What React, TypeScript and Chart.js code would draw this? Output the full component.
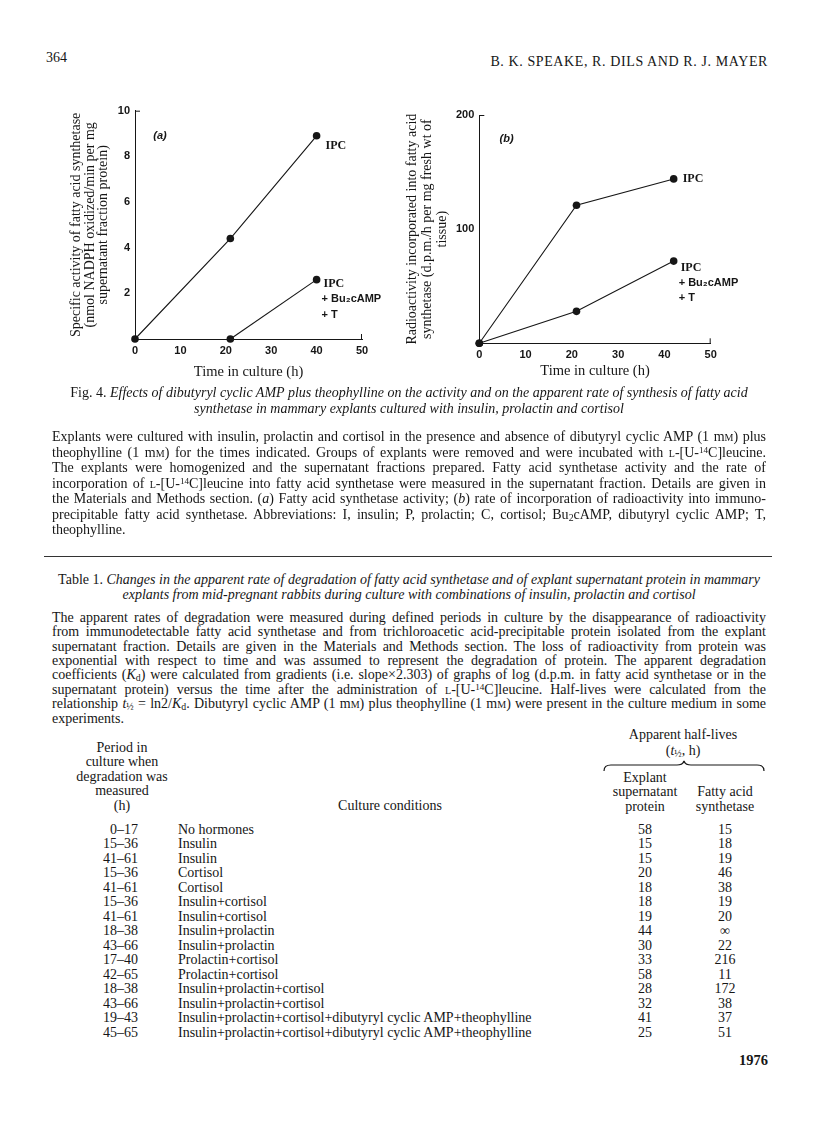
import React, { useEffect, useRef } from "react";
import { Chart, registerables } from "chart.js";

Chart.register(...registerables);

// ---------- Fig. 4 (a): fatty acid synthetase activity ----------
const timeA_IPC = [0, 21, 40];
const activityA_IPC = [0, 4.4, 8.9];
const timeA_IPCBu = [21, 40];
const activityA_IPCBu = [0, 2.6];
const xTicksA = { min: 0, max: 50, step: 10 };
const yTicksA = { min: 0, max: 10, step: 2 };

// ---------- Fig. 4 (b): radioactivity incorporated ----------
const timeB_IPC = [0, 21, 42];
const radioB_IPC = [0, 121, 144];
const timeB_IPCBu = [0, 21, 42];
const radioB_IPCBu = [0, 28, 72];
const xTicksB = { min: 0, max: 50, step: 10 };
const yTicksB = { min: 0, max: 200, step: 100 };

const labelIPC = ["IPC"];
const labelIPCBu = ["IPC", "+ Bu\u2082cAMP", "+ T"];
const xTitle = "Time in culture (h)";
const yTitleA = [
  "Specific activity of fatty acid synthetase",
  "(nmol NADPH oxidized/min per mg",
  "supernatant fraction protein)",
];
const yTitleB = [
  "Radioactivity incorporated into fatty acid",
  "synthetase (d.p.m./h per mg fresh wt of",
  "tissue)",
];

// ---------- Table 1 ----------
const periods = ["0\u201317", "15\u201336", "41\u201361", "15\u201336", "41\u201361", "15\u201336", "41\u201361", "18\u201338", "43\u201366", "17\u201340", "42\u201365", "18\u201338", "43\u201366", "19\u201343", "45\u201365"];
const conditions = [
  "No hormones", "Insulin", "Insulin", "Cortisol", "Cortisol", "Insulin+cortisol", "Insulin+cortisol",
  "Insulin+prolactin", "Insulin+prolactin", "Prolactin+cortisol", "Prolactin+cortisol",
  "Insulin+prolactin+cortisol", "Insulin+prolactin+cortisol",
  "Insulin+prolactin+cortisol+dibutyryl cyclic AMP+theophylline",
  "Insulin+prolactin+cortisol+dibutyryl cyclic AMP+theophylline",
];
const halfLifeSupernatant = ["58", "15", "15", "20", "18", "18", "19", "44", "30", "33", "58", "28", "32", "41", "25"];
const halfLifeFAS = ["15", "18", "19", "46", "38", "19", "20", "\u221e", "22", "216", "11", "172", "38", "37", "51"];

const SERIF = '"Liberation Serif", "Times New Roman", serif';
const SANS = '"Liberation Sans", Arial, sans-serif';
const INK = "#161616";

const endLabelPlugin = {
  id: "endLabels",
  afterDatasetsDraw(chart: any) {
    const ctx = chart.ctx;
    chart.data.datasets.forEach((ds: any, i: number) => {
      const lab = ds.endLabel;
      if (!lab) return;
      const meta = chart.getDatasetMeta(i);
      const last = meta.data[meta.data.length - 1];
      ctx.save();
      ctx.fillStyle = INK;
      ctx.textBaseline = "middle";
      ctx.textAlign = "left";
      lab.lines.forEach((t: string, j: number) => {
        ctx.font = j === 0 ? `bold 12px ${SERIF}` : `bold 11px ${SANS}`;
        ctx.fillText(t, last.x + lab.dx + (j === 0 ? 2 : 0), last.y + lab.dy + j * lab.lh);
      });
      ctx.restore();
    });
  },
};

const framePlugin = {
  id: "frameCaps",
  afterDraw(chart: any, _args: any, opts: any) {
    const { ctx, chartArea: a } = chart;
    ctx.save();
    ctx.strokeStyle = INK;
    ctx.lineWidth = 1;
    ctx.beginPath();
    ctx.moveTo(a.left, a.top + 0.5);
    ctx.lineTo(a.left + 5, a.top + 0.5);
    ctx.moveTo(a.right - 0.5, a.bottom);
    ctx.lineTo(a.right - 0.5, a.bottom - 5);
    ctx.stroke();
    if (opts && opts.panel) {
      const x = chart.scales.x.getPixelForValue(opts.panel.x);
      const y = chart.scales.y.getPixelForValue(opts.panel.y);
      ctx.fillStyle = INK;
      ctx.font = `italic bold 11px ${SANS}`;
      ctx.textAlign = "center";
      ctx.textBaseline = "middle";
      ctx.fillText(opts.panel.text, x, y);
    }
    ctx.restore();
  },
};

function toXY(xs: number[], ys: number[]) {
  return xs.map((x, i) => ({ x, y: ys[i] }));
}

function makeConfig(p: any) {
  const ds = (data: any, endLabel: any) => ({
    data,
    borderColor: INK,
    borderWidth: 1.1,
    pointRadius: 3.8,
    pointBackgroundColor: INK,
    pointBorderColor: INK,
    pointBorderWidth: 0,
    tension: 0,
    clip: false,
    endLabel,
  });
  return {
    type: "line",
    data: {
      datasets: p.series.map((s: any) => ds(s.data, s.endLabel)),
    },
    plugins: [endLabelPlugin, framePlugin],
    options: {
      responsive: false,
      animation: false,
      layout: { padding: { top: p.padTop, right: p.padRight, left: 0, bottom: 0 } },
      plugins: {
        legend: { display: false },
        tooltip: { enabled: false },
        frameCaps: { panel: p.panel },
      },
      scales: {
        x: {
          type: "linear",
          position: "bottom",
          min: p.xTicks.min,
          max: p.xTicks.max,
          grid: { display: false, drawTicks: false },
          border: { display: true, color: INK, width: 1 },
          ticks: {
            stepSize: p.xTicks.step,
            padding: 5,
            color: INK,
            font: { family: SANS, size: 11, weight: "bold" },
          },
          title: {
            display: true,
            text: xTitle,
            color: INK,
            font: { family: SERIF, size: 14.5, lineHeight: 1.2 },
            padding: { top: 0, bottom: p.xTitlePad },
          },
          afterFit: (s: any) => {
            s.height = p.xScaleH;
          },
        },
        y: {
          type: "linear",
          position: "left",
          min: p.yTicks.min,
          max: p.yTicks.max,
          grid: { display: false, drawTicks: false },
          border: { display: true, color: INK, width: 1 },
          ticks: {
            stepSize: p.yTicks.step,
            padding: 5,
            color: INK,
            font: { family: SANS, size: 11, weight: "bold" },
            callback: (v: any) => (v === 0 ? "" : String(v)),
          },
          title: {
            display: true,
            text: p.yTitle,
            color: INK,
            font: { family: SERIF, size: 14, lineHeight: p.yTitleLH + "px" },
            padding: { top: p.yTitlePad, bottom: 0 },
          },
          afterFit: (s: any) => {
            s.width = p.yScaleW;
          },
        },
      },
    },
  };
}

function ChartCanvas({ config, left, top, width, height }: any) {
  const ref = useRef<HTMLCanvasElement | null>(null);
  useEffect(() => {
    if (!ref.current) return;
    const chart = new Chart(ref.current, config);
    return () => chart.destroy();
  }, []);
  return (
    <canvas
      ref={ref}
      width={width}
      height={height}
      style={{ position: "absolute", left, top, width, height }}
    />
  );
}

const configA = makeConfig({
  series: [
    { data: toXY(timeA_IPC, activityA_IPC), endLabel: { lines: labelIPC, dx: 7, dy: 10, lh: 15 } },
    { data: toXY(timeA_IPCBu, activityA_IPCBu), endLabel: { lines: labelIPCBu, dx: 5, dy: 4, lh: 15.5 } },
  ],
  xTicks: xTicksA,
  yTicks: yTicksA,
  yTitle: yTitleA,
  yTitleLH: 13.5,
  yTitlePad: 25,
  yScaleW: 90,
  xScaleH: 56,
  xTitlePad: 14,
  padTop: 15.7,
  padRight: 23,
  panel: { x: 5.5, y: 8.9, text: "(a)" },
});

const configB = makeConfig({
  series: [
    { data: toXY(timeB_IPC, radioB_IPC), endLabel: { lines: labelIPC, dx: 7, dy: 0, lh: 15 } },
    { data: toXY(timeB_IPCBu, radioB_IPCBu), endLabel: { lines: labelIPCBu, dx: 5, dy: 7, lh: 15 } },
  ],
  xTicks: xTicksB,
  yTicks: yTicksB,
  yTitle: yTitleB,
  yTitleLH: 15,
  yTitlePad: 15,
  yScaleW: 89.3,
  xScaleH: 51.7,
  xTitlePad: 15.5,
  padTop: 20,
  padRight: 29.3,
  panel: { x: 5.9, y: 179, text: "(b)" },
});

const sc = (t: string) => <span style={{ fontVariant: "small-caps" }}>{t}</span>;
const mM = <>m{sc("m")}</>;
const leuc = <>{sc("l")}-[U-<sup style={{ fontSize: "0.65em", verticalAlign: "0.45em", lineHeight: 0 }}>14</sup>C]leucine</>;
const sub = (t: string) => <sub style={{ fontSize: "0.7em", verticalAlign: "-0.2em", lineHeight: 0 }}>{t}</sub>;

const figParaLines = [
  <>Explants were cultured with insulin, prolactin and cortisol in the presence and absence of dibutyryl cyclic AMP (1 {mM}) plus</>,
  <>theophylline (1 {mM}) for the times indicated. Groups of explants were removed and were incubated with {leuc}.</>,
  <>The explants were homogenized and the supernatant fractions prepared. Fatty acid synthetase activity and the rate of</>,
  <>incorporation of {leuc} into fatty acid synthetase were measured in the supernatant fraction. Details are given in</>,
  <>the Materials and Methods section. (<i>a</i>) Fatty acid synthetase activity; (<i>b</i>) rate of incorporation of radioactivity into immuno-</>,
  <>precipitable fatty acid synthetase. Abbreviations: I, insulin; P, prolactin; C, cortisol; Bu{sub("2")}cAMP, dibutyryl cyclic AMP; T,</>,
  <>theophylline.</>,
];

const tabParaLines = [
  <>The apparent rates of degradation were measured during defined periods in culture by the disappearance of radioactivity</>,
  <>from immunodetectable fatty acid synthetase and from trichloroacetic acid-precipitable protein isolated from the explant</>,
  <>supernatant fraction. Details are given in the Materials and Methods section. The loss of radioactivity from protein was</>,
  <>exponential with respect to time and was assumed to represent the degradation of protein. The apparent degradation</>,
  <>coefficients (<i>K</i>{sub("d")}) were calculated from gradients (i.e. slope{"\u00d7"}2.303) of graphs of log (d.p.m. in fatty acid synthetase or in the</>,
  <>supernatant protein) versus the time after the administration of {leuc}. Half-lives were calculated from the</>,
  <>relationship <i>t</i>{sub("\u00bd")} = ln2/<i>K</i>{sub("d")}. Dibutyryl cyclic AMP (1 {mM}) plus theophylline (1 {mM}) were present in the culture medium in some</>,
  <>experiments.</>,
];

function Line({ cy, lh, left, width, children, align, last, style }: any) {
  return (
    <div
      style={{
        position: "absolute",
        top: cy - lh / 2,
        left,
        width,
        height: lh,
        lineHeight: lh + "px",
        whiteSpace: "nowrap",
        textAlign: align || "justify",
        textAlignLast: (align ? align : last ? "left" : "justify") as any,
        ...style,
      }}
    >
      {children}
    </div>
  );
}

const TEXT_L = 52;
const TEXT_W = 714;

export default function App() {
  const base: React.CSSProperties = {
    position: "absolute",
    left: 0,
    top: 0,
    width: 816,
    height: 1136,
    background: "#fff",
    color: INK,
    fontFamily: SERIF,
    fontSize: 14,
    overflow: "hidden",
  };
  return (
    <div style={base}>
      <div style={{ position: "absolute", left: 46, top: 50, fontSize: 14, lineHeight: "16px" }}>364</div>
      <div style={{ position: "absolute", right: 48, top: 54, fontSize: 14, lineHeight: "16px", letterSpacing: 0.6 }}>
        B. K. SPEAKE, R. DILS AND R. J. MAYER
      </div>

      <ChartCanvas config={configA} left={45} top={95} width={340} height={300} />
      <ChartCanvas config={configB} left={390} top={95} width={350} height={300} />

      <Line cy={393} lh={16} left={TEXT_L} width={TEXT_W} align="center" style={{ fontSize: 14 }}>
        <span>Fig. 4. </span>
        <i>Effects of dibutyryl cyclic AMP plus theophylline on the activity and on the apparent rate of synthesis of fatty acid</i>
      </Line>
      <Line cy={409} lh={16} left={TEXT_L} width={TEXT_W} align="center" style={{ fontSize: 14 }}>
        <i>synthetase in mammary explants cultured with insulin, prolactin and cortisol</i>
      </Line>

      {figParaLines.map((ln, i) => (
        <Line key={"f" + i} cy={437 + i * 15.5} lh={15.5} left={TEXT_L} width={TEXT_W} last={i === figParaLines.length - 1}>
          {ln}
        </Line>
      ))}

      <div style={{ position: "absolute", left: 44, top: 556, width: 728, height: 1, background: "#333" }} />

      <Line cy={579} lh={15} left={TEXT_L} width={TEXT_W} align="center">
        <span>Table 1. </span>
        <i>Changes in the apparent rate of degradation of fatty acid synthetase and of explant supernatant protein in mammary</i>
      </Line>
      <Line cy={594} lh={15} left={TEXT_L} width={TEXT_W} align="center">
        <i>explants from mid-pregnant rabbits during culture with combinations of insulin, prolactin and cortisol</i>
      </Line>

      {tabParaLines.map((ln, i) => (
        <Line key={"t" + i} cy={618 + i * 14.4} lh={14.4} left={TEXT_L} width={TEXT_W} last={i === tabParaLines.length - 1}>
          {ln}
        </Line>
      ))}

      {["Period in", "culture when", "degradation was", "measured", "(h)"].map((t, i) => (
        <Line key={"p" + i} cy={748 + i * 14.5} lh={14.5} left={62} width={120} align="center">{t}</Line>
      ))}
      <Line cy={806} lh={14.5} left={300} width={180} align="center">Culture conditions</Line>
      <Line cy={735} lh={14.5} left={603} width={160} align="center">Apparent half-lives</Line>
      <Line cy={751} lh={14.5} left={603} width={160} align="center">
        (<i>t</i>{sub("\u00bd")}, h)
      </Line>
      <svg style={{ position: "absolute", left: 603, top: 760, width: 162, height: 12 }} viewBox="0 0 162 12">
        <path d="M1 11 Q1 5 8 5 L74 5 Q80 5 81 1 Q82 5 88 5 L154 5 Q161 5 161 11" fill="none" stroke={INK} strokeWidth="1.2" />
      </svg>
      {["Explant", "supernatant", "protein"].map((t, i) => (
        <Line key={"e" + i} cy={778 + i * 14.5} lh={14.5} left={595} width={100} align="center">{t}</Line>
      ))}
      {["Fatty acid", "synthetase"].map((t, i) => (
        <Line key={"s" + i} cy={792.5 + i * 14.5} lh={14.5} left={680} width={90} align="center">{t}</Line>
      ))}

      {periods.map((p, i) => (
        <React.Fragment key={"r" + i}>
          <Line cy={830 + i * 14.5} lh={14.5} left={78} width={60} align="right">{p}</Line>
          <Line cy={830 + i * 14.5} lh={14.5} left={178} width={420} align="left">{conditions[i]}</Line>
          <Line cy={830 + i * 14.5} lh={14.5} left={615} width={60} align="center">{halfLifeSupernatant[i]}</Line>
          <Line cy={830 + i * 14.5} lh={14.5} left={695} width={60} align="center">{halfLifeFAS[i]}</Line>
        </React.Fragment>
      ))}

      <div style={{ position: "absolute", right: 48, top: 1052, fontSize: 14.5, lineHeight: "16px", fontWeight: "bold" }}>1976</div>
    </div>
  );
}
